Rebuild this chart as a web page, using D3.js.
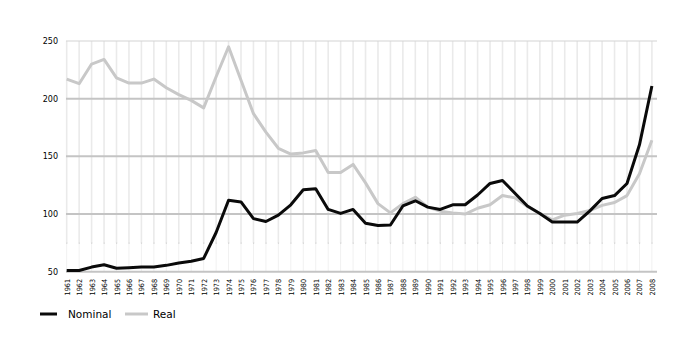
<!DOCTYPE html>
<html>
<head>
<meta charset="utf-8">
<script src="https://cdn.jsdelivr.net/npm/d3@7"></script>
<style>
  body { margin: 0; background: #fff; }
  svg { display: block; }
</style>
</head>
<body>
<script>
// data
var years = ["1961","1962","1963","1964","1965","1966","1967","1968","1969","1970",
  "1971","1972","1973","1974","1975","1976","1977","1978","1979","1980",
  "1981","1982","1983","1984","1985","1986","1987","1988","1989","1990",
  "1991","1992","1993","1994","1995","1996","1997","1998","1999","2000",
  "2001","2002","2003","2004","2005","2006","2007","2008"];

var nominal = [51, 51, 54, 56, 53, 53.5, 54, 54, 55.5, 57.5,
  59, 61.5, 84, 112, 110.5, 96, 93.5, 99, 108, 121,
  122, 104, 100.5, 104, 92, 90, 90.5, 107, 111.5, 106,
  104, 108, 108, 116.5, 126.5, 129, 118, 107, 100.5, 93,
  93, 93, 102.5, 113.5, 116, 126.5, 160, 211];

var real = [217, 213, 230, 234, 218, 213.5, 213.5, 217, 209.5, 203.5,
  198.5, 192, 219, 245, 216, 187, 171, 157, 152, 153,
  155, 136, 136, 143, 127, 109, 101, 109, 114.5, 106,
  102.5, 101, 100, 105, 108, 116, 114, 106.5, 100.5, 95,
  99, 100.5, 103, 107.5, 110, 116, 135, 164];

var yTicks = [50, 100, 150, 200, 250];

var svg = d3.select("body").append("svg")
    .attr("width", 700)
    .attr("height", 351);

var x = d3.scalePoint()
    .domain(years)
    .range([66.7, 651.9]);

var y = d3.scaleLinear()
    .domain([50, 250])
    .range([271.7, 41]);

// vertical grid, one per year
svg.append("g").selectAll("line.vg")
    .data(years)
    .enter().append("line")
    .attr("x1", function (d) { return x(d); })
    .attr("x2", function (d) { return x(d); })
    .attr("y1", y(250))
    .attr("y2", y(75))
    .attr("stroke", "#eaeaea")
    .attr("stroke-width", 1.6);

svg.append("g").selectAll("line.vg2")
    .data(years)
    .enter().append("line")
    .attr("x1", function (d) { return x(d); })
    .attr("x2", function (d) { return x(d); })
    .attr("y1", y(75))
    .attr("y2", y(50))
    .attr("stroke", "#f1f1f1")
    .attr("stroke-width", 1);

// dotted minor line
svg.append("g").selectAll("rect.dot")
    .data(years)
    .enter().append("rect")
    .attr("x", function (d) { return x(d) - 0.5; })
    .attr("y", y(75) - 0.5)
    .attr("width", 1.2)
    .attr("height", 1.5)
    .attr("fill", "#d6d6d6");

// horizontal grid
svg.append("g").selectAll("line.hg")
    .data(yTicks)
    .enter().append("line")
    .attr("x1", 66)
    .attr("x2", 657)
    .attr("y1", function (d) { return y(d); })
    .attr("y2", function (d) { return y(d); })
    .attr("stroke", function (d) { return d == 250 ? "#d4d4d4" : "#c4c4c4"; })
    .attr("stroke-width", function (d) { return d == 250 ? 1.2 : 2; });

// y axis labels
var yAxis = d3.axisLeft(y)
    .tickValues(yTicks)
    .tickSize(0)
    .tickPadding(0);

var gy = svg.append("g")
    .attr("transform", "translate(58,0)")
    .call(yAxis);
gy.select(".domain").remove();
gy.selectAll("text")
    .attr("font-family", "DejaVu Sans, sans-serif")
    .attr("font-size", "8px")
    .attr("fill", "#000");

// x axis labels, rotated
var xAxis = d3.axisBottom(x).tickSize(0).tickPadding(0);
var gx = svg.append("g")
    .attr("transform", "translate(0,279)")
    .call(xAxis);
gx.select(".domain").remove();
gx.selectAll("text")
    .attr("font-family", "DejaVu Sans Condensed, DejaVu Sans, sans-serif")
    .attr("font-size", "7.2px")
    .attr("fill", "#000")
    .attr("text-anchor", "end")
    .attr("dy", "0.35em")
    .attr("y", 0)
    .attr("x", 0)
    .attr("transform", "rotate(-90)");

var line = d3.line()
    .x(function (d, i) { return x(years[i]); })
    .y(function (d) { return y(d); });

svg.append("path")
    .datum(real)
    .attr("d", line)
    .attr("fill", "none")
    .attr("stroke", "#c8c8c8")
    .attr("stroke-width", 3)
    .attr("stroke-linejoin", "round");

svg.append("path")
    .datum(nominal)
    .attr("d", line)
    .attr("fill", "none")
    .attr("stroke", "#0a0a0a")
    .attr("stroke-width", 3)
    .attr("stroke-linejoin", "round");

// legend
var legend = [
  {name: "Nominal", color: "#0a0a0a", x1: 40, x2: 57, tx: 68},
  {name: "Real", color: "#c8c8c8", x1: 125, x2: 148, tx: 153}
];
var lg = svg.append("g");
legend.forEach(function (l) {
  lg.append("line")
    .attr("x1", l.x1).attr("x2", l.x2)
    .attr("y1", 314).attr("y2", 314)
    .attr("stroke", l.color)
    .attr("stroke-width", 3);
  lg.append("text")
    .attr("x", l.tx)
    .attr("y", 314)
    .attr("dy", "0.35em")
    .attr("font-family", "DejaVu Sans, sans-serif")
    .attr("font-size", "10.5px")
    .attr("fill", "#000")
    .text(l.name);
});
</script>
</body>
</html>
